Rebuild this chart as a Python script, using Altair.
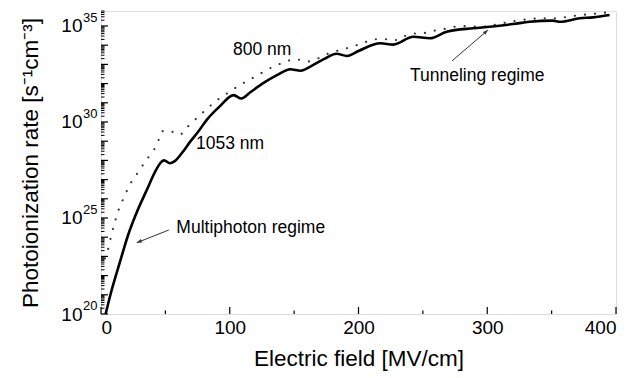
import altair as alt
import pandas as pd
import numpy as np

# ---- data ----
# 1053 nm (solid): electric field [MV/cm] and log10(rate)
field_1053 = [3.6, 8.3, 12, 16, 21, 27.5, 35.5, 42, 46, 49, 53.5, 57, 63, 69, 75, 82, 92, 103, 109,
              116, 126, 137, 147, 155, 163, 173, 183, 191, 200, 217, 227, 242.6, 255.5, 268.5, 289,
              302, 320, 333, 351, 356.5, 372, 382, 395]
log_rate_1053 = [20.0, 21.25, 22.1, 23.0, 24.1, 25.25, 26.45, 27.4, 27.85, 28.0, 27.85, 27.95, 28.4,
                 28.95, 29.45, 30.1, 30.8, 31.4, 31.22, 31.55, 32.02, 32.45, 32.75, 32.67, 32.9, 33.27,
                 33.55, 33.44, 33.7, 34.1, 34.03, 34.44, 34.36, 34.7, 34.88, 34.96, 35.1, 35.22,
                 35.28, 35.22, 35.4, 35.45, 35.57]

# 800 nm (dotted)
field_800 = [3, 6, 8, 10, 13, 16, 19, 22, 26, 30, 35, 40, 44, 47, 51, 55, 61, 66, 68, 75, 82.6, 91,
             100, 108, 116.5, 125, 133, 141.6, 150.7, 160, 169, 177, 186, 195, 204, 213, 221, 230,
             236, 245, 253, 261, 270, 279, 288, 297, 305, 314, 323, 332, 341, 351, 363, 372, 381,
             390, 398]
log_rate_800 = [22.9, 23.5, 24.1, 24.6, 25.3, 25.8, 26.25, 26.7, 27.1, 27.5, 28.0, 28.45, 28.9, 29.5,
                29.55, 29.5, 29.33, 29.65, 29.8, 30.24, 30.71, 31.18, 31.58, 31.93, 32.24, 32.57,
                32.85, 33.09, 33.27, 33.15, 33.32, 33.58, 33.75, 33.92, 34.13, 34.31, 34.31, 34.27,
                34.48, 34.62, 34.65, 34.79, 34.88, 35.0, 34.97, 34.97, 35.05, 35.17, 35.28, 35.35,
                35.4, 35.4, 35.48, 35.57, 35.62, 35.69, 35.72]

# axes
x_major = [0, 100, 200, 300, 400]
x_minor = [50, 150, 250, 350]
y_label_exponents = [20, 25, 30, 35]
y_major_exponents = list(range(20, 36))
y_domain_exponents = [20, 35.78]

# annotations (field, log10 rate, text)
label_fields = [102.5, 73.8, 240, 58.5]
label_logs = [33.75, 28.85, 32.4, 24.5]
label_texts = ["800 nm", "1053 nm", "Tunneling regime", "Multiphoton regime"]

# arrows: tail -> head
arrow_tail_field = [52.7, 272.6]
arrow_tail_log = [24.375, 33.18]
arrow_head_field = [27.7, 300.6]
arrow_head_log = [23.71, 34.79]
arrow_angle = [248, 49]

# ---- build tables ----
solid = pd.DataFrame({"E": field_1053, "R": [10.0 ** v for v in log_rate_1053]})
dotted = pd.DataFrame({"E": field_800, "R": [10.0 ** v for v in log_rate_800]})
ymaj = pd.DataFrame({"R": [10.0 ** k for k in y_major_exponents]})
ymin = pd.DataFrame({"R": [m * 10.0 ** k for k in y_major_exponents for m in range(2, 10)
                           if np.log10(m) + k <= y_domain_exponents[1]]})
xmaj = pd.DataFrame({"E": x_major})
xmin = pd.DataFrame({"E": x_minor})
labels = pd.DataFrame({"E": label_fields, "R": [10.0 ** v for v in label_logs], "t": label_texts})
arrows = pd.DataFrame({"E": arrow_tail_field, "R": [10.0 ** v for v in arrow_tail_log],
                       "E2": arrow_head_field, "R2": [10.0 ** v for v in arrow_head_log],
                       "ang": arrow_angle})
exps = pd.DataFrame({"R": [10.0 ** k for k in y_label_exponents],
                     "t": [str(k) for k in y_label_exponents]})

W, H = 515, 303
FONT = "Liberation Sans"

xscale = alt.Scale(domain=[0, 400], nice=False)
yscale = alt.Scale(type="log", domain=[10.0 ** y_domain_exponents[0], 10.0 ** y_domain_exponents[1]], nice=False)

x_enc = alt.X("E:Q", scale=xscale,
              axis=alt.Axis(values=x_major, ticks=False, domain=False, grid=False, labelFont=FONT,
                            labelFontSize=19, labelColor="black", labelPadding=4,
                            title="Electric field [MV/cm]", titleFont=FONT, titleFontSize=22.5,
                            titleFontWeight="normal", titleColor="black", titleY=44,
                            titleBaseline="middle"))
y_enc = alt.Y("R:Q", scale=yscale,
              axis=alt.Axis(values=[10.0 ** k for k in y_label_exponents], ticks=False, domain=False,
                            grid=False, labelExpr="'10'", labelFont=FONT, labelFontSize=19,
                            labelColor="black", labelPadding=19,
                            title="Photoionization rate [s⁻¹cm⁻³]", titleFont=FONT, titleFontSize=22.5,
                            titleFontWeight="normal", titleColor="black", titleX=-71,
                            titleBaseline="middle"))

base_solid = alt.Chart(solid).mark_line(color="black", strokeWidth=2.6, interpolate="monotone",
                                        clip=True).encode(x=x_enc, y=y_enc)
base_dotted = alt.Chart(dotted).mark_line(color="#333333", strokeWidth=2.1, strokeDash=[0.1, 10],
                                          strokeCap="round", interpolate="monotone", clip=True).encode(
    x=alt.X("E:Q", scale=xscale), y=alt.Y("R:Q", scale=yscale))

exp_text = alt.Chart(exps).mark_text(align="left", baseline="middle", font=FONT, fontSize=13,
                                     color="black", dy=-8).encode(
    y=alt.Y("R:Q", scale=yscale), x=alt.value(-18), text="t:N")

ytick_major = alt.Chart(ymaj).mark_rule(color="black", strokeWidth=1.2).encode(
    y=alt.Y("R:Q", scale=yscale), x=alt.value(0), x2=alt.value(7))
ytick_minor = alt.Chart(ymin).mark_rule(color="black", strokeWidth=1.0).encode(
    y=alt.Y("R:Q", scale=yscale), x=alt.value(0), x2=alt.value(3.5))
xtick_major = alt.Chart(xmaj).mark_rule(color="black", strokeWidth=1.2).encode(
    x=alt.X("E:Q", scale=xscale), y=alt.value(H), y2=alt.value(H - 7))
xtick_minor = alt.Chart(xmin).mark_rule(color="black", strokeWidth=1.2).encode(
    x=alt.X("E:Q", scale=xscale), y=alt.value(H), y2=alt.value(H - 3.5))

texts = alt.Chart(labels).mark_text(align="left", baseline="middle", font=FONT, fontSize=17.5,
                                    color="black").encode(
    x=alt.X("E:Q", scale=xscale), y=alt.Y("R:Q", scale=yscale), text="t:N")

arrow_lines = alt.Chart(arrows).mark_rule(color="#333333", strokeWidth=1.0).encode(
    x=alt.X("E:Q", scale=xscale), y=alt.Y("R:Q", scale=yscale), x2="E2:Q", y2="R2:Q")
arrow_heads = alt.Chart(arrows).mark_point(shape="M0,0L0.35,1L-0.35,1Z", filled=True, color="#333333",
                                           size=110, opacity=1).encode(
    x=alt.X("E2:Q", scale=xscale), y=alt.Y("R2:Q", scale=yscale), angle=alt.Angle("ang:Q", scale=None))

chart = alt.layer(ytick_minor, ytick_major, xtick_major, xtick_minor, base_dotted, base_solid,
                  exp_text, texts, arrow_lines, arrow_heads).properties(
    width=W, height=H,
    autosize=alt.AutoSizeParams(type="none"),
    padding={"left": 101, "top": 11, "right": 15, "bottom": 64},
).configure_view(stroke="#111111", strokeWidth=1.5).configure(background="white")

chart.save("out.html", embed_options={"renderer": "svg", "actions": False})
